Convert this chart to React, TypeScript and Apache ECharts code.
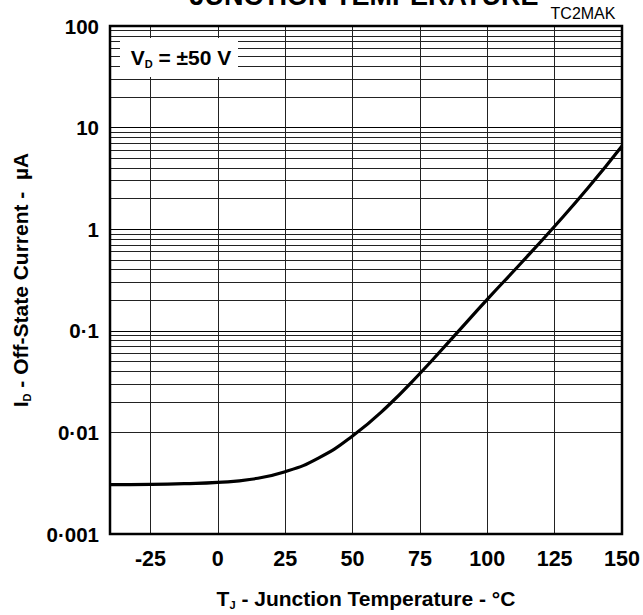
import React, { useEffect, useRef } from "react";
import * as echarts from "echarts";

const temperatures = [-40, -25, -12.5, 0, 12.5, 25, 37.5, 50, 62.5, 75, 87.5, 100, 112.5, 125, 137.5, 150];
const offStateCurrent = [0.00306, 0.00308, 0.00313, 0.00322, 0.00346, 0.0041, 0.00562, 0.00923, 0.0176, 0.038, 0.0877, 0.204, 0.462, 1.07, 2.57, 6.6];
const xTickValues = [-25, 0, 25, 50, 75, 100, 125, 150];
const xGridValues = [-25, 0, 25, 50, 75, 100, 125];
const decades = [0.001, 0.01, 0.1, 1, 10];
const mantissas = [2, 3, 4, 5, 6, 7, 8, 9];
const yTickLabels: Record<string, string> = {
  "-3": "0·001",
  "-2": "0·01",
  "-1": "0·1",
  "0": "1",
  "1": "10",
  "2": "100",
};

const FONT = "'Liberation Sans', Arial, Helvetica, sans-serif";

export default function App() {
  const ref = useRef<HTMLDivElement>(null);
  useEffect(() => {
    if (!ref.current) return;
    const chart = echarts.init(ref.current, null, { renderer: "svg" });
    const minorValues: number[] = [];
    decades.forEach((d) => mantissas.forEach((m) => minorValues.push(+(d * m).toPrecision(3))));

    const nameRich = {
      b: { fontFamily: FONT, fontWeight: "bold", fontSize: 21, color: "#000", lineHeight: 24 },
      s: { fontFamily: FONT, fontWeight: "bold", fontSize: 11, color: "#000", lineHeight: 12, verticalAlign: "bottom" },
    };

    const option: any = {
      animation: false,
      backgroundColor: "#fff",
      grid: {
        left: 110,
        right: 21,
        top: 26,
        bottom: 77,
        show: true,
        borderColor: "#000",
        borderWidth: 2.5,
        backgroundColor: "transparent",
        z: 10,
      },
      xAxis: {
        type: "value",
        min: -40,
        max: 150,
        axisLine: { show: false },
        axisTick: { show: false },
        splitLine: { show: false },
        axisLabel: {
          customValues: xTickValues,
          fontFamily: FONT,
          fontWeight: "bold",
          fontSize: 21.5,
          color: "#000",
          margin: 14,
        },
        name: "{b|T}{s|J}{b| - Junction Temperature - °C}",
        nameLocation: "middle",
        nameGap: 52,
        nameTextStyle: { rich: nameRich },
      },
      yAxis: {
        type: "log",
        logBase: 10,
        min: 0.001,
        max: 100,
        axisLine: { show: false },
        axisTick: { show: false },
        splitLine: { show: true, lineStyle: { color: "#000", width: 1 } },
        axisLabel: {
          fontFamily: FONT,
          fontWeight: "bold",
          fontSize: 20.5,
          color: "#000",
          margin: 11,
          formatter: (v: number) => yTickLabels[String(Math.round(Math.log10(v)))] ?? "",
        },
        name: "{b|I}{s|D}{b| - Off-State Current -  µA}",
        nameLocation: "middle",
        nameRotate: 90,
        nameGap: 78,
        nameTextStyle: { rich: nameRich },
      },
      graphic: [
        {
          type: "text",
          x: 364,
          y: 0,
          style: {
            text: "JUNCTION TEMPERATURE",
            x: 0,
            y: 9,
            align: "center",
            verticalAlign: "bottom",
            font: `bold 27px ${FONT}`,
            fill: "#000",
          },
        },
        {
          type: "text",
          x: 583,
          y: 0,
          style: {
            text: "TC2MAK",
            x: 0,
            y: 13,
            align: "center",
            verticalAlign: "middle",
            font: `16px ${FONT}`,
            fill: "#000",
          },
        },
        {
          type: "rect",
          shape: { x: 120, y: 38, width: 118, height: 39 },
          style: { fill: "#fff" },
          z: 50,
        },
        {
          type: "text",
          z: 51,
          x: 181,
          y: 57,
          style: {
            text: "{b|V}{s|D}{b| = ±50 V}",
            x: 0,
            y: 0,
            align: "center",
            verticalAlign: "middle",
            rich: {
              b: { fontFamily: FONT, fontWeight: "bold", fontSize: 21, fill: "#000", lineHeight: 24 },
              s: { fontFamily: FONT, fontWeight: "bold", fontSize: 11, fill: "#000", lineHeight: 12, verticalAlign: "bottom" },
            },
          },
        },
      ],
      series: [
        {
          type: "line",
          data: temperatures.map((t, i) => [t, offStateCurrent[i]]),
          smooth: 0.5,
          symbol: "none",
          lineStyle: { color: "#000", width: 3.2 },
          z: 20,
          markLine: {
            silent: true,
            symbol: "none",
            label: { show: false },
            lineStyle: { color: "#222", width: 1, type: "solid" },
            data: [
              ...minorValues.map((v) => ({ yAxis: v })),
              ...xGridValues.map((v) => ({ xAxis: v })),
            ],
          },
        },
      ],
    };
    chart.setOption(option);
    return () => chart.dispose();
  }, []);
  return <div ref={ref} style={{ width: 643, height: 615, position: "absolute", left: 0, top: 0 }} />;
}
